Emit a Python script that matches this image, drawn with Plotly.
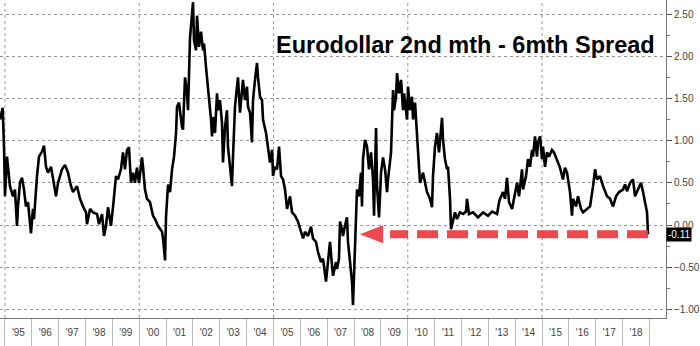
import plotly.graph_objects as go
from datetime import datetime, timedelta

# ---- data (decimal year, spread value) ----
TIMES = [
    1994.814, 1994.851, 1994.914, 1994.963, 1995.000, 1995.074, 1995.112, 1995.186, 1995.298, 1995.372,
    1995.447, 1995.484, 1995.559, 1995.633, 1995.708, 1995.782, 1995.857, 1995.968, 1996.043, 1996.080,
    1996.192, 1996.266, 1996.378, 1996.453, 1996.527, 1996.601, 1996.713, 1996.788, 1996.899, 1996.974,
    1997.123, 1997.235, 1997.346, 1997.458, 1997.533, 1997.682, 1997.793, 1997.905, 1998.017, 1998.054,
    1998.166, 1998.277, 1998.426, 1998.501, 1998.613, 1998.687, 1998.762, 1998.836, 1998.948, 1999.022,
    1999.134, 1999.209, 1999.320, 1999.395, 1999.469, 1999.544, 1999.618, 1999.693, 1999.767, 1999.842,
    1999.916, 1999.991, 2000.102, 2000.140, 2000.214, 2000.289, 2000.400, 2000.512, 2000.587, 2000.698,
    2000.847, 2000.885, 2000.959, 2000.996, 2001.034, 2001.071, 2001.145, 2001.220, 2001.294, 2001.369,
    2001.406, 2001.480, 2001.592, 2001.629, 2001.704, 2001.778, 2001.816, 2001.890, 2002.002, 2002.039,
    2002.114, 2002.151, 2002.225, 2002.300, 2002.374, 2002.412, 2002.486, 2002.561, 2002.598, 2002.672,
    2002.710, 2002.747, 2002.821, 2002.896, 2002.933, 2003.007, 2003.082, 2003.119, 2003.194, 2003.268,
    2003.305, 2003.380, 2003.454, 2003.492, 2003.566, 2003.641, 2003.678, 2003.752, 2003.827, 2003.864,
    2003.939, 2004.013, 2004.050, 2004.125, 2004.199, 2004.237, 2004.311, 2004.385, 2004.423, 2004.497,
    2004.572, 2004.609, 2004.721, 2004.795, 2004.870, 2004.944, 2004.981, 2005.056, 2005.130, 2005.205,
    2005.279, 2005.354, 2005.428, 2005.503, 2005.615, 2005.689, 2005.801, 2005.912, 2005.987, 2006.099,
    2006.173, 2006.285, 2006.397, 2006.471, 2006.583, 2006.657, 2006.769, 2006.844, 2006.955, 2007.030,
    2007.104, 2007.179, 2007.216, 2007.328, 2007.365, 2007.439, 2007.477, 2007.551, 2007.588, 2007.663,
    2007.737, 2007.775, 2007.849, 2007.924, 2007.961, 2008.035, 2008.110, 2008.184, 2008.259, 2008.296,
    2008.333, 2008.408, 2008.482, 2008.557, 2008.631, 2008.706, 2008.743, 2008.818, 2008.855, 2008.929,
    2009.004, 2009.078, 2009.153, 2009.227, 2009.264, 2009.376, 2009.451, 2009.488, 2009.562, 2009.600,
    2009.674, 2009.749, 2009.823, 2009.860, 2009.972, 2010.009, 2010.084, 2010.158, 2010.196, 2010.270,
    2010.345, 2010.382, 2010.456, 2010.568, 2010.642, 2010.717, 2010.829, 2010.903, 2010.940, 2011.015,
    2011.089, 2011.164, 2011.276, 2011.313, 2011.387, 2011.462, 2011.499, 2011.574, 2011.611, 2011.685,
    2011.760, 2011.834, 2011.946, 2012.058, 2012.169, 2012.207, 2012.281, 2012.430, 2012.616, 2012.803,
    2012.989, 2013.138, 2013.324, 2013.399, 2013.436, 2013.547, 2013.622, 2013.696, 2013.771, 2013.883,
    2013.957, 2014.069, 2014.143, 2014.255, 2014.292, 2014.404, 2014.479, 2014.553, 2014.628, 2014.665,
    2014.739, 2014.814, 2014.851, 2014.926, 2015.000, 2015.037, 2015.112, 2015.186, 2015.261, 2015.372,
    2015.447, 2015.559, 2015.670, 2015.782, 2015.857, 2015.931, 2016.043, 2016.117, 2016.155, 2016.266,
    2016.341, 2016.453, 2016.527, 2016.676, 2016.788, 2016.900, 2016.974, 2017.048, 2017.160, 2017.272,
    2017.421, 2017.533, 2017.644, 2017.756, 2017.868, 2018.017, 2018.091, 2018.166, 2018.278, 2018.389,
    2018.464, 2018.575, 2018.687, 2018.762, 2018.836, 2018.911, 2018.948,
]
SPREAD = [
    1.25, 1.32, 1.39, 0.93, 0.34, 0.81, 0.69, 0.46, 0.34, 0.42,
    -0.01, 0.22, 0.50, 0.56, 0.42, 0.22, 0.27, -0.10, 0.19, 0.07,
    0.58, 0.81, 0.87, 0.94, 0.69, 0.62, 0.69, 0.54, 0.34, 0.50,
    0.66, 0.71, 0.62, 0.46, 0.39, 0.46, 0.31, 0.22, 0.15, 0.01,
    0.19, 0.15, 0.13, 0.01, 0.13, -0.13, -0.01, 0.21, -0.01, 0.21,
    0.58, 0.54, 0.66, 0.86, 0.66, 0.89, 0.92, 0.50, 0.62, 0.50,
    0.68, 0.50, 0.80, 0.69, 0.42, 0.31, 0.27, 0.11, 0.07, -0.01,
    -0.08, -0.16, -0.42, 0.10, 0.34, 0.48, 0.39, 0.66, 0.81, 1.09,
    1.40, 1.45, 1.16, 1.13, 1.75, 1.56, 1.36, 2.22, 2.64, 2.19,
    2.07, 2.48, 2.11, 2.29, 2.07, 2.15, 1.87, 1.64, 1.48, 1.25,
    1.05, 1.28, 1.09, 1.56, 1.36, 1.48, 1.21, 0.74, 1.16, 1.36,
    0.93, 0.69, 0.46, 0.81, 1.40, 1.64, 1.75, 1.33, 1.56, 1.72,
    1.48, 1.64, 1.40, 1.33, 0.98, 1.48, 1.72, 1.92, 1.75, 1.52,
    1.48, 1.25, 1.09, 0.93, 0.74, 0.89, 0.58, 0.69, 0.66, 0.93,
    0.58, 0.54, 0.42, 0.19, 0.34, 0.15, 0.11, 0.04, -0.05, -0.16,
    -0.08, -0.13, -0.02, -0.16, -0.20, -0.32, -0.44, -0.40, -0.67, -0.44,
    -0.20, -0.48, -0.60, -0.44, -0.52, -0.40, 0.04, -0.05, -0.13, -0.01,
    0.09, -0.20, -0.40, -0.67, -0.95, -0.25, 0.42, 0.34, 0.62, 0.22,
    0.78, 1.01, 0.93, 0.66, 0.86, 0.54, 0.11, 1.15, 0.46, 0.09,
    0.62, 0.80, 0.66, 0.39, 0.54, 0.86, 1.60, 1.36, 1.52, 1.80,
    1.56, 1.72, 1.36, 1.56, 1.25, 1.64, 1.36, 1.52, 1.25, 1.45,
    1.05, 0.78, 0.50, 0.62, 0.50, 0.39, 0.31, 0.21, 0.58, 0.93,
    1.09, 0.86, 1.27, 1.01, 0.78, 0.66, 0.69, 0.31, -0.05, 0.07,
    0.15, 0.07, 0.15, 0.13, 0.16, 0.31, 0.13, 0.15, 0.09, 0.15,
    0.11, 0.16, 0.13, 0.27, 0.31, 0.39, 0.31, 0.56, 0.27, 0.19,
    0.31, 0.50, 0.34, 0.66, 0.42, 0.58, 0.78, 0.69, 0.89, 0.81,
    1.05, 0.81, 0.98, 1.05, 0.78, 0.93, 0.69, 0.86, 0.81, 0.89,
    0.86, 0.78, 0.68, 0.54, 0.68, 0.62, 0.39, 0.11, 0.31, 0.22,
    0.34, 0.19, 0.15, 0.19, 0.22, 0.46, 0.66, 0.54, 0.58, 0.46,
    0.34, 0.31, 0.22, 0.34, 0.39, 0.42, 0.48, 0.40, 0.50, 0.54,
    0.34, 0.42, 0.50, 0.39, 0.27, 0.15, -0.11,
]

YEARS = list(range(1995, 2019))
YEAR_LABELS = ["'" + str(y)[2:] for y in YEARS]
GRID_YEARS = [1995, 2000, 2005, 2010, 2015]
X_RANGE = [1994.814, 2019.618]
Y_RANGE = [-1.102, 2.666]
TITLE = "Eurodollar 2nd mth - 6mth Spread"

# arrow annotation (decimal years / value units)
ARROW_TIP = 2008.222
ARROW_HEAD_LEN = 0.857
ARROW_HALF_H = 0.107
ARROW_DASH_LEFT = 2009.34


def to_date(t):
    y = int(t)
    start = datetime(y, 1, 1)
    days = (datetime(y + 1, 1, 1) - start).days
    return start + timedelta(days=(t - y) * days)


dates = [to_date(t) for t in TIMES]
last_t = TIMES[-1]
last_v = SPREAD[-1]
red = "rgba(236,56,62,0.92)"

fig = go.Figure()
fig.add_trace(go.Scatter(x=dates, y=SPREAD, mode="lines",
                         line=dict(color="black", width=2.6), hoverinfo="skip"))
# dashed arrow shaft (drawn from the last value leftwards)
fig.add_trace(go.Scatter(x=[to_date(last_t), to_date(ARROW_DASH_LEFT)], y=[last_v, last_v],
                         mode="lines", line=dict(color=red, width=8, dash="21px,9px"),
                         hoverinfo="skip"))
# arrow head
fig.add_trace(go.Scatter(
    x=[to_date(ARROW_TIP), to_date(ARROW_TIP + ARROW_HEAD_LEN), to_date(ARROW_TIP + ARROW_HEAD_LEN), to_date(ARROW_TIP)],
    y=[last_v, last_v + ARROW_HALF_H, last_v - ARROW_HALF_H, last_v],
    mode="lines", fill="toself", fillcolor=red, line=dict(width=0, color=red), hoverinfo="skip"))

shapes = [dict(type="line", xref="x", yref="paper", x0=to_date(g), x1=to_date(g), y0=0, y1=1,
               line=dict(color="#999", width=1, dash="dot"), layer="below") for g in GRID_YEARS]

fig.update_layout(
    width=700, height=346,
    margin=dict(l=0, r=34, t=0, b=28, autoexpand=False),
    paper_bgcolor="white", plot_bgcolor="white",
    showlegend=False,
    hovermode=False,
    shapes=shapes,
    xaxis=dict(
        type="date",
        automargin=False,
        range=[to_date(X_RANGE[0]), to_date(X_RANGE[1])],
        tickmode="array",
        tickvals=[to_date(y + 0.5) for y in YEARS],
        ticktext=YEAR_LABELS,
        ticks="",
        ticklabelstandoff=5,
        tickfont=dict(family="Liberation Sans", size=10, color="#444"),
        showgrid=False, zeroline=False,
        showline=True, linecolor="#777", linewidth=1,
        minor=dict(tickmode="array", tickvals=[to_date(y) for y in YEARS + [YEARS[-1] + 1]],
                   ticks="outside", ticklen=30, tickcolor="#bbb", tickwidth=1, showgrid=False),
    ),
    yaxis=dict(
        side="right",
        automargin=False,
        range=Y_RANGE,
        tick0=0, dtick=0.5, tickformat=".2f",
        ticks="outside", ticklen=5, tickcolor="#555", tickwidth=1,
        tickfont=dict(family="Liberation Sans", size=10, color="#444"),
        showgrid=True, gridcolor="#999", gridwidth=1, griddash="dot",
        zeroline=False,
        showline=True, linecolor="#777", linewidth=1,
        minor=dict(dtick=0.25, ticks="outside", ticklen=3, tickcolor="#777", showgrid=False),
    ),
    annotations=[
        dict(text="<b>" + TITLE + "</b>", xref="paper", yref="paper", x=657 / 666, y=0.858,
             xanchor="right", yanchor="middle", showarrow=False,
             font=dict(family="Liberation Sans", size=23.5, color="black")),
        dict(text="%.2f" % last_v, xref="paper", yref="y", x=1, y=last_v, xshift=0,
             xanchor="left", yanchor="middle", showarrow=False, bgcolor="black", borderpad=1,
             font=dict(family="Liberation Sans", size=10, color="white")),
    ],
)

fig.write_html("out.html", config={"displayModeBar": False, "staticPlot": True},
               post_script="document.body.style.margin='0';")
